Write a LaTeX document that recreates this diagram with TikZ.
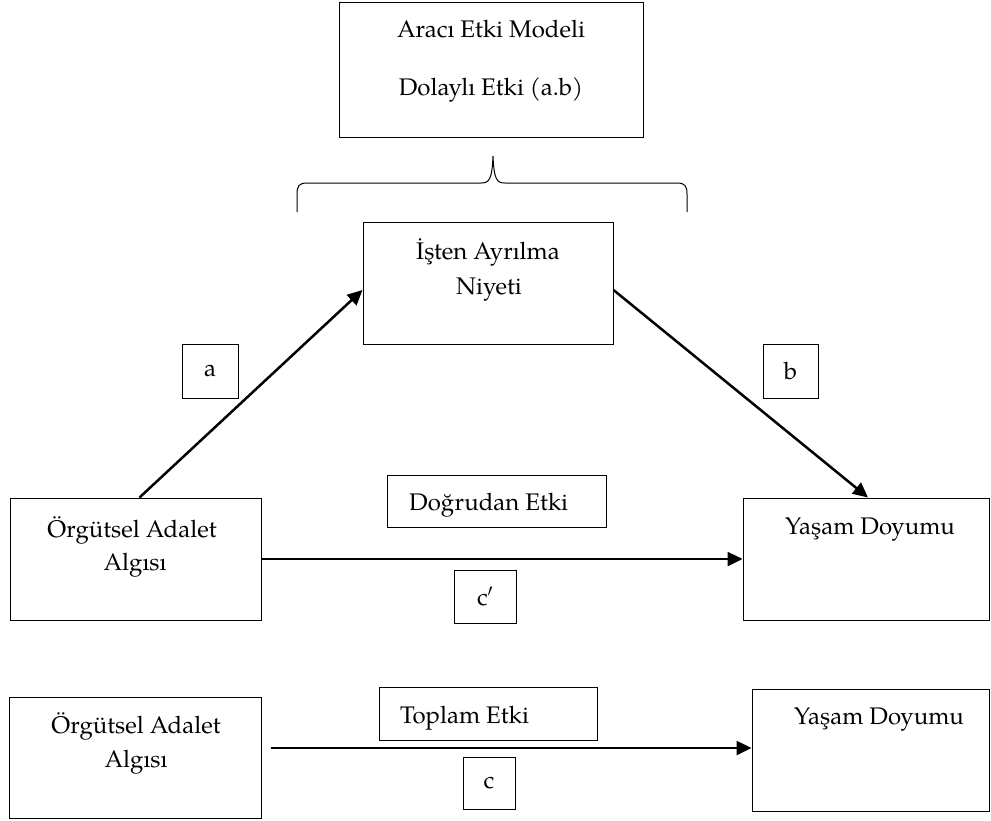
\documentclass[tikz,border=0pt]{standalone}
\usepackage{fontspec}
\setmainfont{TeX Gyre Pagella}
\usetikzlibrary{arrows.meta}
\begin{document}
\begin{tikzpicture}[x=1pt,y=-1pt,
  box/.style={draw, line width=1pt, inner sep=0pt, font=\fontsize{24}{28}\selectfont},
  lbl/.style={inner sep=0pt, font=\fontsize{24}{28}\selectfont},
  arr/.style={line width=2.5pt, -{Triangle[length=15pt,width=14pt]}}]
\useasboundingbox (0,0) rectangle (991,820);
% top model box
\node[box, minimum width=304, minimum height=135] (model) at (491,69.5) {};
\node[lbl, anchor=base] (t1) at (491,37.5) {Aracı Etki Modeli};
\node[lbl, anchor=base] (t2) at (491,95) {Dolaylı Etki (a.b)};
% brace
\draw[line width=1pt] (297,212) -- (297,194) .. controls (297,186) and (299,183) .. (307,183)
  -- (481,183) .. controls (489,183) and (492,180) .. (493,156)
  .. controls (494,180) and (497,183) .. (505,183) -- (677,183)
  .. controls (685,183) and (687,186) .. (687,194) -- (687,212);
% mediator
\node[box, minimum width=250, minimum height=122] (med) at (488,283) {};
\node[lbl, anchor=base] (m1) at (488,259) {İşten Ayrılma};
\node[lbl, anchor=base] (m2) at (489,294) {Niyeti};
% a, b labels
\node[box, minimum width=56, minimum height=54] (la) at (210,371) {a};
\node[box, minimum width=55, minimum height=54] (lb) at (790.5,371) {b};
% left box middle
\node[box, minimum width=251, minimum height=122] (ol) at (135.5,559) {};
\node[lbl, anchor=base] (o1) at (132,537) {Örgütsel Adalet};
\node[lbl, anchor=base] (o2) at (135,570) {Algısı};
% right box middle
\node[box, minimum width=246, minimum height=122] (ym) at (866,559) {};
\node[lbl, anchor=base] (y1) at (870,534) {Yaşam Doyumu};
% direct effect
\node[box, minimum width=219, minimum height=52] (de) at (496.5,501) {};
\node[lbl, anchor=base west] (det) at (409,510) {Doğrudan Etki};
\node[box, minimum width=62, minimum height=53] (lc1) at (485,596.5) {c$'$};
% arrows
\draw[arr] ([xshift=4pt]ol.north) -- ([yshift=-7pt]med.west);
\draw[arr] ([yshift=-7pt]med.east) -- ([xshift=2pt]ym.north);
\draw[arr] (ol.east) -- (ym.west);
% bottom section
\node[box, minimum width=252, minimum height=121] (bl) at (135,758) {};
\node[lbl, anchor=base] (b1) at (136,733) {Örgütsel Adalet};
\node[lbl, anchor=base] (b2) at (136,767) {Algısı};
\node[box, minimum width=237, minimum height=122] (br) at (870.5,750) {};
\node[lbl, anchor=base] (b3) at (879,724) {Yaşam Doyumu};
\node[box, minimum width=218, minimum height=53] (te) at (488,713.5) {};
\node[lbl, anchor=base west] (tet) at (400,723) {Toplam Etki};
\node[box, minimum width=52, minimum height=52] (lc) at (489,783) {c};
\draw[arr] ([xshift=9pt,yshift=10pt]bl.east) -- ([yshift=2pt]br.west);
\end{tikzpicture}
\end{document}
